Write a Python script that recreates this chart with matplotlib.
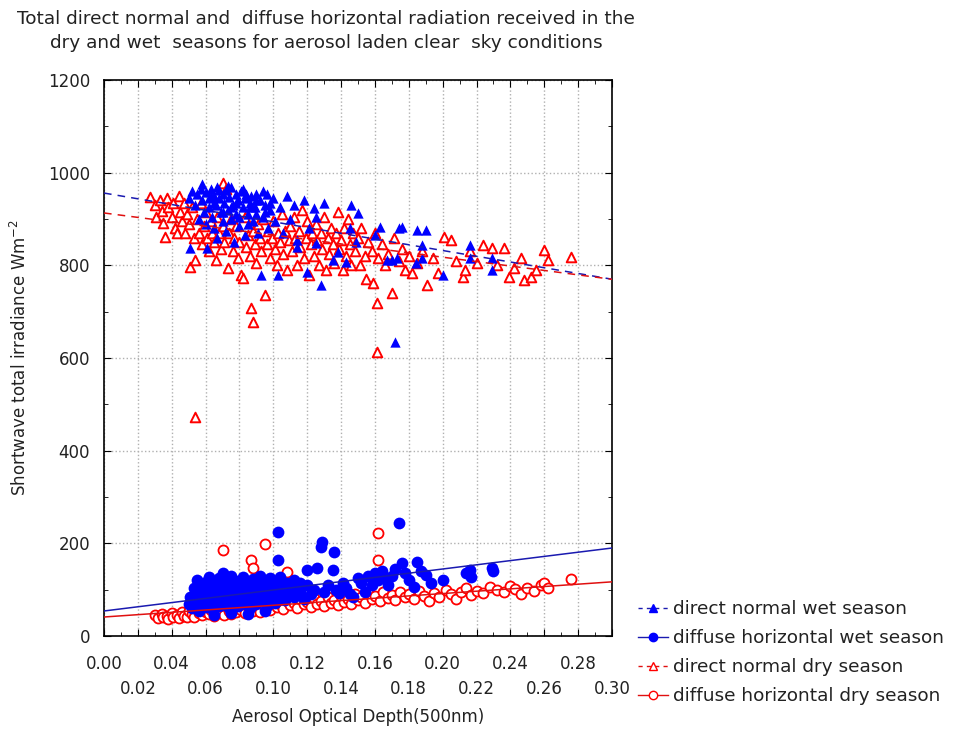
import matplotlib
matplotlib.use("Agg")
import matplotlib.pyplot as plt
from matplotlib.lines import Line2D
from matplotlib.ticker import MultipleLocator
import numpy as np

plt.rcParams['font.family'] = ['DejaVu Sans']

# ---- data ----
dnw_x = [0.050,0.051,0.052,0.054,0.055,0.056,0.057,0.058,0.059,0.060,0.060,0.061,0.062,0.062,0.063,0.064,0.065,0.065,0.066,0.067,
         0.067,0.068,0.069,0.070,0.070,0.071,0.072,0.072,0.073,0.074,0.075,0.075,0.076,0.077,0.078,0.078,0.079,0.080,0.081,0.082,
         0.083,0.083,0.084,0.085,0.086,0.087,0.088,0.089,0.090,0.091,0.092,0.093,0.094,0.095,0.096,0.097,0.098,0.100,0.101,0.103,
         0.104,0.106,0.108,0.110,0.112,0.114,0.114,0.118,0.120,0.121,0.124,0.125,0.125,0.128,0.130,0.135,0.138,0.143,0.145,0.146,
         0.149,0.150,0.160,0.163,0.167,0.170,0.172,0.173,0.174,0.176,0.184,0.185,0.188,0.188,0.190,0.200,0.216,0.216,0.229,0.229,
         0.058,0.063,0.068,0.073,0.078,0.082,0.086,0.090,0.094,0.098,0.075,0.070,0.065,0.080,0.085,0.090,0.095]
dnw_y = [945,838,960,930,955,900,965,940,915,958,890,838,945,925,965,905,950,880,930,970,
         860,945,915,955,895,935,962,875,920,948,900,968,930,850,955,910,940,885,960,925,
         945,865,955,910,935,950,895,925,955,870,940,779,905,930,955,880,920,945,895,779,
         925,870,950,900,930,855,840,941,786,880,924,848,905,758,935,811,829,807,880,930,
         850,913,865,883,811,811,635,816,880,883,805,876,844,816,876,779,844,816,816,790,
         975,950,962,972,935,965,925,940,960,935,925,915,935,905,890,910,915]

dnd_x = [0.027,0.030,0.031,0.033,0.034,0.035,0.036,0.037,0.038,0.040,0.041,0.042,0.043,0.044,0.045,0.046,0.047,0.048,0.049,0.050,
         0.051,0.052,0.053,0.054,0.054,0.055,0.056,0.057,0.058,0.059,0.060,0.061,0.062,0.063,0.064,0.065,0.066,0.067,0.068,0.069,
         0.070,0.070,0.071,0.072,0.073,0.074,0.075,0.076,0.077,0.078,0.079,0.080,0.081,0.082,0.083,0.084,0.085,0.086,0.087,0.088,
         0.088,0.089,0.090,0.091,0.092,0.093,0.094,0.095,0.096,0.097,0.098,0.099,0.100,0.101,0.102,0.103,0.104,0.105,0.106,0.107,
         0.108,0.109,0.110,0.111,0.112,0.113,0.114,0.115,0.116,0.117,0.118,0.119,0.120,0.121,0.122,0.123,0.124,0.125,0.126,0.127,
         0.128,0.129,0.130,0.131,0.132,0.133,0.134,0.135,0.136,0.137,0.138,0.139,0.140,0.141,0.142,0.143,0.144,0.145,0.146,0.147,
         0.148,0.150,0.151,0.152,0.154,0.155,0.156,0.158,0.159,0.160,0.161,0.161,0.162,0.164,0.166,0.168,0.170,0.171,0.174,0.176,
         0.178,0.180,0.182,0.185,0.188,0.191,0.194,0.197,0.201,0.205,0.208,0.212,0.213,0.216,0.220,0.224,0.229,0.232,0.236,0.239,
         0.242,0.246,0.248,0.252,0.255,0.260,0.262,0.276]
dnd_y = [948,930,905,940,918,892,861,945,925,905,935,880,870,950,915,895,935,870,910,890,
         796,925,860,811,473,900,870,935,845,885,915,860,830,895,870,850,811,905,870,835,
         978,885,850,965,794,870,900,830,860,885,815,850,779,773,905,840,865,820,708,678,
         875,845,805,890,860,830,900,736,845,875,815,860,895,835,800,870,850,910,825,875,
         790,855,885,830,905,860,800,875,840,920,815,860,895,780,845,870,820,890,855,800,
         870,835,905,790,860,825,880,845,805,870,915,835,855,790,880,820,900,845,800,870,
         830,860,800,880,820,770,850,830,762,870,719,613,815,845,800,825,740,860,810,835,
         790,820,783,805,830,757,815,783,861,855,810,775,790,830,805,844,838,800,838,775,
         795,816,768,775,790,833,811,818]

dhw_x = [0.050,0.051,0.052,0.053,0.054,0.055,0.056,0.057,0.058,0.059,0.060,0.060,0.061,0.062,0.063,0.064,0.065,0.066,0.067,0.068,
         0.069,0.070,0.070,0.071,0.072,0.073,0.074,0.075,0.076,0.077,0.078,0.079,0.080,0.081,0.082,0.083,0.084,0.085,0.086,0.087,
         0.088,0.089,0.090,0.091,0.092,0.093,0.094,0.095,0.096,0.097,0.098,0.099,0.100,0.101,0.102,0.103,0.103,0.104,0.105,0.106,
         0.107,0.108,0.110,0.112,0.114,0.116,0.118,0.120,0.120,0.122,0.124,0.126,0.128,0.129,0.130,0.132,0.135,0.136,0.137,0.139,
         0.141,0.143,0.145,0.147,0.150,0.152,0.154,0.156,0.158,0.160,0.162,0.164,0.166,0.168,0.170,0.172,0.174,0.176,0.178,0.180,
         0.183,0.185,0.187,0.190,0.193,0.200,0.214,0.216,0.217,0.229,0.230,
         0.055,0.058,0.062,0.065,0.068,0.072,0.075,0.078,0.082,0.085,0.088,0.092,0.095,0.099,0.104,0.108,0.112,0.116,
         0.065,0.075,0.085,0.095]
dhw_y = [70,85,60,103,75,90,55,80,68,95,117,62,85,72,100,58,88,76,110,65,
         92,135,80,70,120,95,60,85,105,75,90,65,100,80,112,70,95,85,60,105,
         78,92,70,100,85,115,75,95,65,88,125,80,98,72,108,225,164,90,80,102,
         78,115,92,85,105,95,80,142,110,90,100,146,192,203,95,110,142,181,100,92,
         115,103,90,85,125,115,96,130,110,136,120,140,125,110,130,145,244,157,135,120,
         106,160,140,132,114,121,135,142,128,146,140,
         120,110,128,115,125,105,130,118,128,110,122,130,112,118,128,100,120,115,
         45,50,48,55]

dhd_x = [0.030,0.032,0.034,0.035,0.037,0.038,0.040,0.041,0.043,0.044,0.046,0.047,0.049,0.050,0.052,0.053,0.055,0.056,0.058,0.059,
         0.060,0.062,0.063,0.065,0.066,0.068,0.069,0.070,0.071,0.072,0.074,0.075,0.077,0.078,0.080,0.081,0.083,0.083,0.085,0.086,
         0.087,0.088,0.088,0.090,0.092,0.093,0.095,0.095,0.097,0.098,0.100,0.102,0.104,0.106,0.108,0.108,0.110,0.112,0.114,0.116,
         0.118,0.120,0.122,0.124,0.126,0.128,0.130,0.132,0.134,0.136,0.138,0.140,0.142,0.144,0.146,0.148,0.150,0.152,0.154,0.156,
         0.158,0.160,0.162,0.162,0.163,0.165,0.168,0.170,0.172,0.175,0.178,0.180,0.183,0.186,0.189,0.192,0.195,0.198,0.202,0.205,
         0.208,0.211,0.214,0.217,0.220,0.224,0.228,0.232,0.236,0.240,0.243,0.246,0.250,0.254,0.258,0.260,0.262,0.276]
dhd_y = [45,38,48,40,44,36,50,42,46,38,52,44,40,55,47,42,58,50,45,60,
         52,48,56,44,62,50,58,186,46,64,54,48,60,52,66,56,117,50,62,70,
         164,146,55,64,52,72,198,60,68,56,74,62,70,58,138,76,66,72,60,80,
         68,74,62,82,70,76,64,84,72,78,66,86,74,80,70,90,78,84,72,92,
         80,86,222,164,76,94,82,88,78,96,84,90,80,98,86,76,92,84,100,90,
         80,96,104,88,98,92,106,100,94,108,102,90,104,98,110,115,103,123]

# fitted lines: intercept, slope
fit_dnw = [956, -620]
fit_dnd = [913, -477]
fit_dhw = [54, 453]
fit_dhd = [41, 253]

x_ticks = [0.00,0.02,0.04,0.06,0.08,0.10,0.12,0.14,0.16,0.18,0.20,0.22,0.24,0.26,0.28,0.30]
y_ticks = [0,200,400,600,800,1000,1200]

# ---- plot ----
BLUE = '#0000ff'
RED = '#ff0000'
BLUE_L = '#1a1ab0'
RED_L = '#e01010'
TXT = '#222222'

fig = plt.figure(figsize=(9.58, 7.38), dpi=100)
ax = fig.add_axes([104/958, 1-636/738, (612-104)/958, (636-80)/738])

xl = np.array([0.0, 0.30])
ax.plot(xl, fit_dnw[0] + fit_dnw[1]*xl, color=BLUE_L, lw=1.1, ls=(0, (5, 4)), zorder=5)
ax.plot(xl, fit_dnd[0] + fit_dnd[1]*xl, color=RED_L, lw=1.1, ls=(0, (5, 4)), zorder=5)

ax.scatter(dnd_x, dnd_y, marker='^', s=48, facecolors='white', edgecolors=RED, linewidths=1.4, zorder=3)
ax.scatter(dnw_x, dnw_y, marker='^', s=55, color=BLUE, linewidths=0, zorder=4)
ax.scatter(dhd_x, dhd_y, marker='o', s=52, facecolors='white', edgecolors=RED, linewidths=1.3, zorder=3)
ax.scatter(dhw_x, dhw_y, marker='o', s=72, color=BLUE, linewidths=0, zorder=4)

ax.plot(xl, fit_dhw[0] + fit_dhw[1]*xl, color=BLUE_L, lw=1.1, zorder=5)
ax.plot(xl, fit_dhd[0] + fit_dhd[1]*xl, color=RED_L, lw=1.1, zorder=5)

ax.set_xlim(0, 0.30)
ax.set_ylim(0, 1200)
ax.set_xticks(x_ticks)
labels = [("%.2f" % v) if i % 2 == 0 else ("\n%.2f" % v) for i, v in enumerate(x_ticks)]
ax.set_xticklabels(labels)
for lbl in ax.get_xticklabels():
    lbl.set_linespacing(1.5)
ax.xaxis.set_minor_locator(MultipleLocator(0.01))
ax.set_yticks(y_ticks)
ax.yaxis.set_minor_locator(MultipleLocator(100))
ax.tick_params(axis='both', which='both', direction='in', top=True, right=True, labelsize=12, colors='black',
               labelcolor=TXT)
ax.tick_params(axis='both', which='major', length=5)
ax.tick_params(axis='both', which='minor', length=3)
ax.tick_params(axis='x', pad=14)
ax.tick_params(axis='y', pad=10)
ax.grid(True, which='major', color='#b0b0b0', ls=':', lw=1.0)
ax.set_axisbelow(True)
for sp in ax.spines.values():
    sp.set_linewidth(1.2)

ax.set_xlabel('Aerosol Optical Depth(500nm)', fontsize=12, color=TXT)
ax.set_ylabel('Shortwave total irradiance Wm$^{-2}$', fontsize=12, color=TXT)
ax.xaxis.set_label_coords(0.5, (636-708)/556)
ax.yaxis.set_label_coords((30-104)/508, 0.5)

fig.text(326/958, 1-31/738,
         'Total direct normal and  diffuse horizontal radiation received in the\n'
         'dry and wet  seasons for aerosol laden clear  sky conditions',
         ha='center', va='center', fontsize=13.3, linespacing=1.4, color=TXT)

handles = [
    Line2D([], [], color=BLUE_L, ls=(0, (3, 3)), lw=1, marker='^', markersize=6, markerfacecolor=BLUE, markeredgecolor=BLUE),
    Line2D([], [], color=BLUE_L, ls='-', lw=1, marker='o', markersize=6, markerfacecolor=BLUE, markeredgecolor=BLUE),
    Line2D([], [], color=RED_L, ls=(0, (3, 3)), lw=1, marker='^', markersize=6, markerfacecolor='white', markeredgecolor=RED),
    Line2D([], [], color=RED_L, ls='-', lw=1, marker='o', markersize=6, markerfacecolor='white', markeredgecolor=RED),
]
names = ['direct normal wet season', 'diffuse horizontal wet season',
         'direct normal dry season', 'diffuse horizontal dry season']
fig.legend(handles, names, loc='upper left', bbox_to_anchor=(638/958, 1-600/738),
           frameon=False, fontsize=13.3, handlelength=1.6, handletextpad=0.3,
           labelspacing=0.6, borderaxespad=0, borderpad=0, labelcolor=TXT)

fig.savefig('out.png', dpi=100)
